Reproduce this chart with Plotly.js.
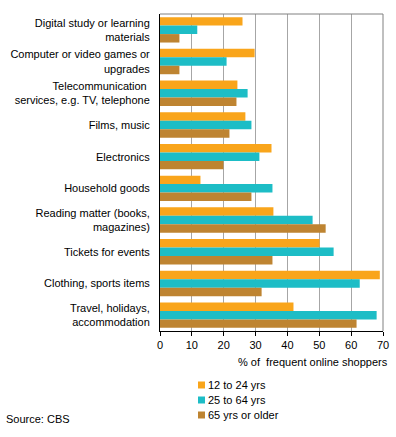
<!DOCTYPE html>
<html><head><meta charset="utf-8">
<script src="https://cdn.plot.ly/plotly-3.0.1.min.js"></script>
<style>html,body{margin:0;padding:0;background:#fff}#chart{width:396px;height:437px}</style>
</head><body><div id="chart"></div>
<script>
const categories = [
  "Digital study or learning<br>materials",
  "Computer or video games or<br>upgrades",
  "Telecommunication <br>services, e.g. TV, telephone",
  "Films, music",
  "Electronics",
  "Household goods",
  "Reading matter (books,<br>magazines)",
  "Tickets for events",
  "Clothing, sports items",
  "Travel, holidays,<br>accommodation"
];
const seriesNames = ["12 to 24 yrs", "25 to 64 yrs", "65 yrs or older"];
const youth = [25.9, 29.7, 24.3, 26.8, 35.0, 12.7, 35.6, 50.1, 69.0, 41.9];
const adults = [11.7, 20.9, 27.5, 28.7, 31.2, 35.3, 47.9, 54.5, 62.7, 68.0];
const seniors = [6.1, 6.1, 24.0, 21.8, 19.9, 28.7, 52.0, 35.3, 31.9, 61.7];
const xTicks = [0, 10, 20, 30, 40, 50, 60, 70];
const colors = ["#F9A51B", "#1DBDC6", "#BE8431"];
const seriesValues = [youth, adults, seniors];

const font = {family: "Liberation Sans, Arial, sans-serif", size: 11, color: "#000"};
const traces = seriesValues.map((vals, i) => ({
  type: "bar", orientation: "h", name: seriesNames[i],
  x: vals, y: categories, marker: {color: colors[i], line: {width: 0}},
  hoverinfo: "x+name"
}));

const W = 396, H = 437, ml = 160, mr = 13, mt = 14, mb = 106;
const pw = W - ml - mr, ph = H - mt - mb;
const shapes = [
  {type: "line", xref: "paper", yref: "paper", x0: 0, x1: 1, y0: 1, y1: 1, line: {color: "#808080", width: 1}},
  {type: "line", xref: "paper", yref: "paper", x0: 1, x1: 1, y0: 0, y1: 1, line: {color: "#808080", width: 1}}
];
const annotations = [
  {xref: "paper", yref: "paper", x: (390 - ml) / pw, y: -(362 - (mt + ph)) / ph, xanchor: "right", yanchor: "middle",
   text: "% of  frequent online shoppers", showarrow: false, font: font},
  {xref: "paper", yref: "paper", x: (4 - ml) / pw, y: -(419 - (mt + ph)) / ph, xanchor: "left", yanchor: "middle",
   text: "Source: CBS", showarrow: false, font: font}
];
seriesNames.forEach((n, i) => {
  const cy = 385 + i * 15;
  const toY = py => 1 - (py - mt) / ph;
  const toX = px => (px - ml) / pw;
  shapes.push({type: "rect", xref: "paper", yref: "paper", x0: toX(198), x1: toX(205), y0: toY(cy + 3.5), y1: toY(cy - 3.5),
    fillcolor: colors[i], line: {width: 0}});
  annotations.push({xref: "paper", yref: "paper", x: toX(206), y: toY(cy), xanchor: "left", yanchor: "middle",
    text: n, showarrow: false, font: font});
});

const layout = {
  width: W, height: H,
  margin: {l: ml, r: mr, t: mt, b: mb, pad: 0},
  paper_bgcolor: "#fff", plot_bgcolor: "#fff",
  font: font,
  barmode: "group", bargap: 0.2, bargroupgap: 0,
  showlegend: false,
  xaxis: {range: [0, 70], tickvals: xTicks, ticktext: xTicks.map(String), showgrid: true, gridcolor: "#A6A6A6", gridwidth: 1,
    zeroline: false, showline: true, linecolor: "#000", linewidth: 1, ticks: "outside", ticklen: 4, tickcolor: "#000",
    tickfont: font, fixedrange: true},
  yaxis: {autorange: "reversed", showgrid: false, zeroline: false, showline: true, linecolor: "#000", linewidth: 1,
    ticks: "", ticklabelstandoff: 7, tickfont: font, fixedrange: true},
  shapes: shapes, annotations: annotations
};
Plotly.newPlot("chart", traces, layout, {displayModeBar: false, staticPlot: true});
</script></body></html>
